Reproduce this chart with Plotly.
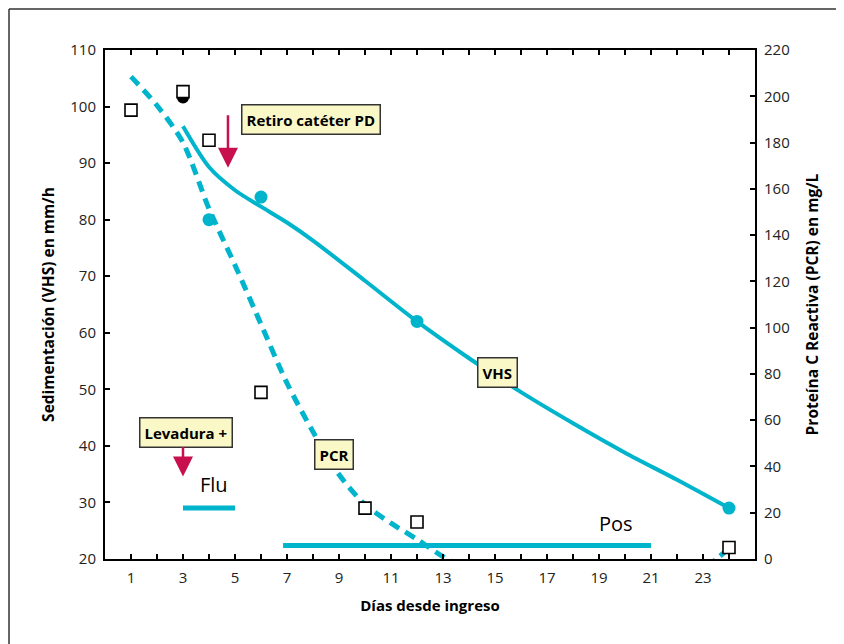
import plotly.graph_objects as go

# ---------------- data ----------------
days_ticks = list(range(0, 26))
day_tick_labels = [str(d) if d % 2 == 1 and d <= 23 else "" for d in days_ticks]

# Sedimentación (VHS) measured points, mm/h (left axis)
vhs_days = [4, 6, 12, 24]
vhs_values = [80, 84, 62, 29]
vhs_first_day = [3]
vhs_first_value = [101.6]

# VHS fitted curve
vhs_fit_days = [3, 4, 5, 6, 7, 8, 10, 12, 14, 16, 18, 20, 22, 24]
vhs_fit_values = [96.5, 89.3, 85.2, 82.3, 79.5, 76.3, 69.2, 62, 55.5, 49.5, 44, 38.8, 34, 29]

# Proteína C reactiva (PCR) measured points, mg/L (right axis)
pcr_days = [1, 3, 4, 6, 10, 12, 24]
pcr_values = [194, 202, 181, 72, 22, 16, 5]

# PCR fitted curve
pcr_fit_days = [1, 2, 3, 4, 5, 6, 7, 8, 9, 10, 11, 12, 13, 13.5]
pcr_fit_values = [208.5, 196, 180, 151.4, 127, 101.5, 76, 55, 36.5, 23.5, 15.5, 8.5, 1, -2]
pcr_tail_days = [23.3, 24]
pcr_tail_values = [-2, 4.5]

# treatment periods (left axis level)
flu_days = [3, 5]
flu_level = [29, 29]
pos_days = [6.85, 21]
pos_level = [22.4, 22.4]

CYAN = "#00b4cc"
CRIMSON = "#c8104f"
BOXFILL = "#fbf8c8"
FONT = "Open Sans"

# plot area in figure pixels (page has an 8px body offset)
L, T, W, H = 97, 42, 650, 509

fig = go.Figure()

fig.add_trace(go.Scatter(x=flu_days, y=flu_level, mode="lines",
                         line=dict(color=CYAN, width=5), yaxis="y", showlegend=False))
fig.add_trace(go.Scatter(x=pos_days, y=pos_level, mode="lines",
                         line=dict(color=CYAN, width=5), yaxis="y", showlegend=False))

fig.add_trace(go.Scatter(x=vhs_fit_days, y=vhs_fit_values, mode="lines",
                         line=dict(color=CYAN, width=4, shape="spline", smoothing=0.8),
                         yaxis="y", showlegend=False))
fig.add_trace(go.Scatter(x=pcr_fit_days, y=pcr_fit_values, mode="lines",
                         line=dict(color=CYAN, width=5, dash="11px,7px", shape="spline", smoothing=0.8),
                         yaxis="y2", showlegend=False))
fig.add_trace(go.Scatter(x=pcr_tail_days, y=pcr_tail_values, mode="lines",
                         line=dict(color=CYAN, width=5, dash="6px,6px"),
                         yaxis="y2", showlegend=False))

fig.add_trace(go.Scatter(x=vhs_first_day, y=vhs_first_value, mode="markers",
                         marker=dict(color="black", size=12), yaxis="y", showlegend=False))
fig.add_trace(go.Scatter(x=vhs_days, y=vhs_values, mode="markers",
                         marker=dict(color=CYAN, size=13), yaxis="y", showlegend=False))
fig.add_trace(go.Scatter(x=pcr_days, y=pcr_values, mode="markers",
                         marker=dict(symbol="square", color="white", size=12,
                                     line=dict(color="black", width=1.6)),
                         yaxis="y2", showlegend=False))

box = dict(bgcolor=BOXFILL, bordercolor="#333333", borderwidth=1.5, borderpad=4,
           font=dict(family=FONT, size=15, color="black"), showarrow=False)
ann = [
    dict(x=7.94, y=97.7, xref="x", yref="y", text="<b>Retiro catéter PD</b>", **box),
    dict(x=3.1, y=42.4, xref="x", yref="y", text="<b>Levadura +</b>", **box),
    dict(x=8.8, y=38.4, xref="x", yref="y", text="<b>PCR</b>", **box),
    dict(x=15.1, y=52.9, xref="x", yref="y", text="<b>VHS</b>", **box),
    dict(x=4.73, y=89.2, xref="x", yref="y", text="", showarrow=True, ax=0, ay=-54,
         arrowcolor=CRIMSON, arrowwidth=2.5, arrowhead=2, arrowsize=1.6),
    dict(x=3.0, y=34.6, xref="x", yref="y", text="", showarrow=True, ax=0, ay=-31,
         arrowcolor=CRIMSON, arrowwidth=2.5, arrowhead=2, arrowsize=1.6),
    dict(x=4.19, y=33.1, xref="x", yref="y", text="Flu", showarrow=False,
         font=dict(family=FONT, size=20, color="black")),
    dict(x=19.65, y=26.2, xref="x", yref="y", text="Pos", showarrow=False,
         font=dict(family=FONT, size=20, color="black")),
]

axis_common = dict(showline=True, linecolor="black", linewidth=2, ticks="inside",
                   tickcolor="black", tickwidth=1.5, ticklen=5, showgrid=False, zeroline=False,
                   ticklabelstandoff=4,
                   tickfont=dict(family=FONT, size=15, color="#222222"))

fx = (1 - L) / W
fy = (T + H - 1) / H

fig.update_layout(
    width=844, height=644,
    margin=dict(l=L, r=844 - L - W, t=T, b=644 - T - H),
    paper_bgcolor="white", plot_bgcolor="white",
    font=dict(family=FONT),
    xaxis=dict(range=[0, 25], tickmode="array", tickvals=days_ticks, ticktext=day_tick_labels,
               mirror="ticks",
               title=dict(text="<b>Días desde ingreso</b>", font=dict(family=FONT, size=15, color="black"),
                          standoff=14),
               **axis_common),
    yaxis=dict(range=[20, 110], dtick=10, tick0=20,
               title=dict(text="<b>Sedimentación (VHS) en mm/h</b>",
                          font=dict(family=FONT, size=15.5, color="black"), standoff=12),
               **axis_common),
    yaxis2=dict(range=[0, 220], dtick=20, tick0=0, overlaying="y", side="right",
                title=dict(text="<b>Proteína C Reactiva (PCR) en mg/L</b>",
                           font=dict(family=FONT, size=15.5, color="black"), standoff=18),
                **axis_common),
    annotations=ann,
    shapes=[
        dict(type="line", xref="paper", yref="paper", x0=fx, x1=fx,
             y0=fy, y1=-0.3, line=dict(color="#333333", width=1.5)),
        dict(type="line", xref="paper", yref="paper", x0=fx, x1=1.3,
             y0=fy, y1=fy, line=dict(color="#333333", width=1.5)),
    ],
)

fig.write_html("out.html")
